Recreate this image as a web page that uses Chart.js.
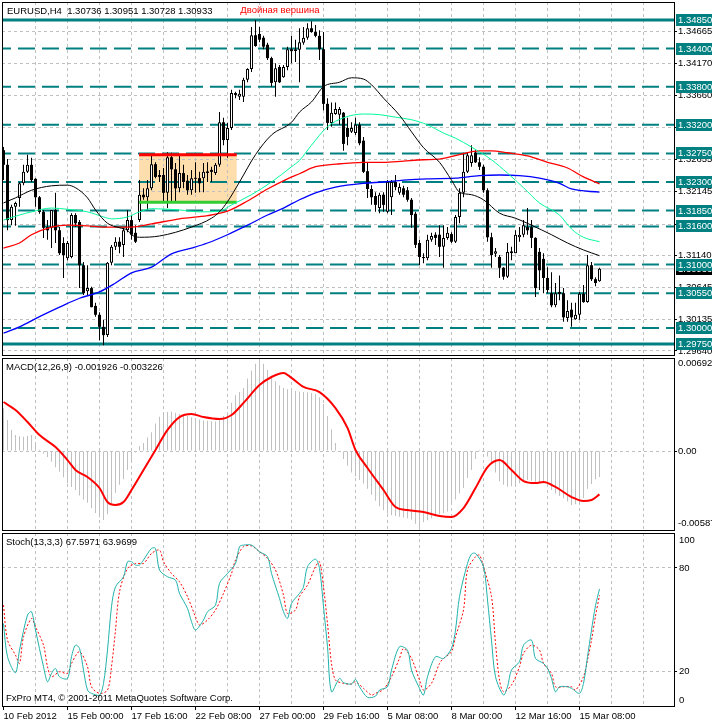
<!DOCTYPE html>
<html>
<head>
<meta charset="utf-8">
<title>EURUSD,H4</title>
<script src="https://cdn.jsdelivr.net/npm/chart.js@4/dist/chart.umd.min.js"></script>
<style>
  html, body { margin:0; padding:0; background:#ffffff; }
  #wrap { position:relative; width:712px; height:724px; overflow:hidden; background:#ffffff; }
  #wrap canvas { position:absolute; left:0; }
</style>
</head>
<body>
<div id="wrap">
  <canvas id="cMain" width="712" height="357" style="top:0px;width:712px;height:357px"></canvas>
  <canvas id="cMacd" width="712" height="176" style="top:356px;width:712px;height:176px"></canvas>
  <canvas id="cStoch" width="712" height="192" style="top:532px;width:712px;height:192px"></canvas>
</div>
<script>
// ================= DATA =================
const symbolName = 'EURUSD,H4';
const annotationText = 'Двойная вершина';
const copyrightText = 'FxPro MT4, © 2001-2011 MetaQuotes Software Corp.';
const xTickLabels = ['10 Feb 2012','15 Feb 00:00','17 Feb 16:00','22 Feb 08:00','27 Feb 00:00','29 Feb 16:00','5 Mar 08:00','8 Mar 00:00','12 Mar 16:00','15 Mar 08:00'];
const priceTicks = [1.34665,1.34170,1.33660,1.33150,1.32655,1.32145,1.31635,1.31140,1.30645,1.30135,1.29640];
const levelsSolid = [1.34850, 1.29750];
const levelsDashed = [1.34400,1.33800,1.33200,1.32750,1.32300,1.31850,1.31600,1.31000,1.30550,1.30000];

const opens = [
1.3280,1.3257,1.3170,1.3191,1.3205,1.3228,1.3246,1.3257,1.3235,1.3206,
1.3183,1.3159,1.3158,1.3186,1.3154,1.3134,1.3110,1.3112,1.3178,1.3167,
1.3099,1.3058,1.3063,1.3035,1.3021,1.3002,1.2989,1.3103,1.3128,1.3136,
1.3131,1.3154,1.3170,1.3150,1.3170,1.3210,1.3206,1.3220,1.3258,1.3241,
1.3241,1.3213,1.3269,1.3250,1.3220,1.3244,1.3232,1.3217,1.3236,1.3236,
1.3236,1.3244,1.3249,1.3244,1.3257,1.3324,1.3296,1.3315,1.3370,1.3364,
1.3364,1.3391,1.3408,1.3461,1.3463,1.3457,1.3446,1.3425,1.3387,1.3411,
1.3395,1.3411,1.3439,1.3436,1.3438,1.3449,1.3457,1.3472,1.3466,1.3460,
1.3439,1.3353,1.3323,1.3337,1.3336,1.3339,1.3315,1.3309,1.3307,1.3320,
1.3295,1.3247,1.3219,1.3208,1.3189,1.3210,1.3183,1.3206,1.3230,1.3213,
1.3220,1.3217,1.3202,1.3180,1.3134,1.3110,1.3110,1.3139,1.3147,1.3147,
1.3128,1.3142,1.3148,1.3136,1.3175,1.3213,1.3246,1.3260,1.3276,1.3261,
1.3254,1.3217,1.3143,1.3117,1.3112,1.3095,1.3081,1.3118,1.3118,1.3143,
1.3147,1.3159,1.3159,1.3142,1.3120,1.3109,1.3079,1.3055,1.3036,1.3057,
1.3055,1.3016,1.3029,1.3014,1.3021,1.3054,1.3041,1.3099,1.3077,1.30736];
const highs = [
1.3285,1.3266,1.3194,1.3199,1.3230,1.3257,1.3273,1.3268,1.3236,1.3208,
1.3186,1.3170,1.3186,1.3213,1.3159,1.3143,1.3137,1.3181,1.3181,1.3170,
1.3104,1.3099,1.3065,1.3040,1.3025,1.3013,1.3104,1.3131,1.3143,1.3143,
1.3158,1.3186,1.3178,1.3162,1.3233,1.3220,1.3233,1.3273,1.3261,1.3249,
1.3252,1.3277,1.3276,1.3260,1.3273,1.3257,1.3241,1.3249,1.3261,1.3246,
1.3260,1.3261,1.3254,1.3260,1.3340,1.3331,1.3323,1.3375,1.3372,1.3375,
1.3394,1.3409,1.3474,1.3485,1.3474,1.3460,1.3449,1.3427,1.3417,1.3414,
1.3414,1.3443,1.3460,1.3454,1.3472,1.3474,1.3480,1.3483,1.3477,1.3469,
1.3466,1.3362,1.3355,1.3355,1.3348,1.3340,1.3331,1.3324,1.3331,1.3324,
1.3301,1.3261,1.3225,1.3214,1.3213,1.3214,1.3233,1.3233,1.3241,1.3228,
1.3224,1.3222,1.3205,1.3183,1.3139,1.3118,1.3147,1.3150,1.3151,1.3162,
1.3162,1.3159,1.3151,1.3178,1.3220,1.3276,1.3277,1.3288,1.3280,1.3269,
1.3257,1.3220,1.3150,1.3126,1.3115,1.3096,1.3134,1.3128,1.3154,1.3159,
1.3170,1.3189,1.3170,1.3143,1.3126,1.3118,1.3096,1.3088,1.3071,1.3083,
1.3063,1.3044,1.3040,1.3040,1.3057,1.3068,1.3115,1.3104,1.3080,1.30951];
const lows = [
1.3233,1.3154,1.3162,1.3161,1.3191,1.3225,1.3244,1.3230,1.3191,1.3180,
1.3142,1.3139,1.3126,1.3134,1.3115,1.3079,1.3107,1.3110,1.3159,1.3063,
1.3052,1.3052,1.3033,1.3018,1.2981,1.2973,1.2986,1.3099,1.3123,1.3118,
1.3112,1.3151,1.3139,1.3134,1.3167,1.3202,1.3186,1.3217,1.3236,1.3230,
1.3199,1.3189,1.3199,1.3197,1.3214,1.3220,1.3210,1.3210,1.3213,1.3214,
1.3214,1.3230,1.3230,1.3241,1.3254,1.3288,1.3268,1.3312,1.3362,1.3359,
1.3356,1.3387,1.3403,1.3443,1.3450,1.3439,1.3422,1.3380,1.3364,1.3386,
1.3394,1.3406,1.3417,1.3419,1.3387,1.3446,1.3454,1.3465,1.3458,1.3422,
1.3343,1.3312,1.3317,1.3336,1.3320,1.3279,1.3288,1.3307,1.3304,1.3288,
1.3244,1.3205,1.3194,1.3183,1.3181,1.3183,1.3181,1.3178,1.3217,1.3210,
1.3206,1.3199,1.3158,1.3126,1.3099,1.3102,1.3107,1.3136,1.3131,1.3112,
1.3095,1.3139,1.3134,1.3134,1.3165,1.3206,1.3244,1.3254,1.3260,1.3249,
1.3213,1.3136,1.3095,1.3112,1.3079,1.3076,1.3079,1.3107,1.3118,1.3136,
1.3143,1.3147,1.3126,1.3049,1.3060,1.3055,1.3055,1.3033,1.3033,1.3044,
1.3010,1.3010,1.3002,1.3013,1.3013,1.3040,1.3040,1.3074,1.3066,1.30728];
const closes = [
1.3257,1.3170,1.3191,1.3197,1.3228,1.3246,1.3257,1.3233,1.3206,1.3183,
1.3158,1.3154,1.3186,1.3154,1.3118,1.3115,1.3134,1.3178,1.3165,1.3099,
1.3055,1.3063,1.3033,1.3021,1.3002,1.2989,1.3103,1.3128,1.3136,1.3128,
1.3154,1.3170,1.3147,1.3136,1.3210,1.3206,1.3220,1.3258,1.3238,1.3238,
1.3213,1.3269,1.3250,1.3220,1.3244,1.3230,1.3217,1.3236,1.3235,1.3228,
1.3246,1.3247,1.3246,1.3257,1.3324,1.3296,1.3315,1.3370,1.3367,1.3369,
1.3391,1.3408,1.3461,1.3444,1.3454,1.3443,1.3425,1.3386,1.3409,1.3387,
1.3411,1.3439,1.3436,1.3439,1.3450,1.3457,1.3472,1.3466,1.3460,1.3439,
1.3353,1.3323,1.3339,1.3345,1.3345,1.3290,1.3301,1.3315,1.3320,1.3291,
1.3246,1.3219,1.3206,1.3194,1.3210,1.3194,1.3230,1.3230,1.3222,1.3222,
1.3210,1.3202,1.3178,1.3131,1.3112,1.3112,1.3139,1.3145,1.3142,1.3128,
1.3142,1.3150,1.3136,1.3175,1.3213,1.3246,1.3272,1.3272,1.3261,1.3254,
1.3217,1.3143,1.3115,1.3121,1.3095,1.3081,1.3120,1.3121,1.3147,1.3147,
1.3162,1.3154,1.3142,1.3063,1.3091,1.3079,1.3060,1.3036,1.3055,1.3054,
1.3017,1.3027,1.3017,1.3021,1.3054,1.3041,1.3099,1.3077,1.3071,1.30933];

// moving averages: [bar index, price]
const maBlack = [[0,1.3197],[3,1.3205],[7,1.3217],[12,1.3224],[16,1.3225],[18,1.3221],[21,1.3205],[23,1.3186],[26,1.3165],[29,1.3158],[31,1.3154],[32,1.3147],[34,1.3143],[39,1.3145],[47,1.3159],[52,1.3173],[54,1.3183],[56,1.3199],[59,1.3230],[63,1.3273],[67,1.3304],[72,1.3324],[74,1.3340],[77,1.3356],[80,1.3380],[84,1.3387],[87,1.3394],[90,1.3392],[92,1.3383],[95,1.3362],[99,1.3335],[102,1.3309],[105,1.3284],[109,1.3261],[112,1.3233],[114,1.3214],[117,1.3210],[120,1.3202],[124,1.3181],[128,1.3173],[132,1.3162],[137,1.3147],[141,1.3134],[145,1.3123],[149,1.3114]];
const maGreen = [[0,1.3170],[4,1.3178],[7,1.3183],[12,1.3189],[16,1.3187],[21,1.3183],[25,1.3175],[27,1.3172],[31,1.3175],[34,1.3183],[37,1.3188],[44,1.3186],[49,1.3183],[54,1.3184],[57,1.3194],[62,1.3210],[67,1.3230],[72,1.3254],[74,1.3264],[77,1.3288],[81,1.3317],[85,1.3331],[90,1.3337],[94,1.3336],[98,1.3332],[102,1.3328],[106,1.3320],[110,1.3307],[113,1.3299],[117,1.3285],[122,1.3265],[126,1.3244],[130,1.3221],[134,1.3197],[139,1.3178],[142,1.3156],[145,1.3143],[149,1.3136]];
const maRed = [[0,1.3126],[4,1.3134],[7,1.3147],[12,1.3159],[16,1.3162],[21,1.3161],[25,1.3159],[32,1.3159],[37,1.3164],[44,1.3172],[51,1.3177],[56,1.3184],[61,1.3200],[66,1.3219],[71,1.3235],[74,1.3243],[78,1.3254],[83,1.3258],[90,1.3261],[95,1.3261],[100,1.3263],[105,1.3265],[109,1.3266],[114,1.3273],[119,1.3279],[122,1.3279],[126,1.3276],[131,1.3271],[136,1.3261],[141,1.3252],[145,1.3238],[149,1.3227]];
const maBlue = [[0,1.2992],[4,1.3002],[9,1.3018],[14,1.3033],[19,1.3047],[24,1.3057],[28,1.3071],[32,1.3087],[37,1.3096],[42,1.3117],[47,1.3126],[51,1.3134],[56,1.3147],[61,1.3162],[66,1.3178],[70,1.3189],[74,1.3202],[78,1.3213],[83,1.3222],[90,1.3228],[95,1.3230],[100,1.3233],[106,1.3235],[113,1.3236],[119,1.3240],[124,1.3241],[129,1.3240],[134,1.3236],[139,1.3228],[142,1.3219],[149,1.3214]];

// consolidation box: [from bar, to bar, upper price, lower price]
const boxRange = [33.9, 58.3, 1.3273, 1.3198];
const annotationAt = [59.2, 1.34995];

// MACD(12,26,9)
const macdMin = -0.005873, macdMax = 0.006923;
const macdHist = [
0.00318,0.00231,0.00157,0.00119,0.00110,0.00107,0.00112,0.00119,0.00057,0.00010,
-0.00020,-0.00045,-0.00080,-0.00120,-0.00153,-0.00195,-0.00240,-0.00268,-0.00290,-0.00330,
-0.00362,-0.00385,-0.00425,-0.00460,-0.00495,-0.00513,-0.00470,-0.00390,-0.00310,-0.00250,
-0.00210,-0.00140,-0.00080,-0.00010,0.00035,0.00060,0.00100,0.00140,0.00205,0.00255,
0.00280,0.00290,0.00293,0.00285,0.00276,0.00268,0.00260,0.00252,0.00245,0.00235,
0.00228,0.00225,0.00222,0.00219,0.00235,0.00260,0.00285,0.00360,0.00415,0.00440,
0.00470,0.00540,0.00600,0.00650,0.00692,0.00650,0.00603,0.00560,0.00520,0.00490,
0.00470,0.00460,0.00452,0.00447,0.00442,0.00440,0.00437,0.00432,0.00425,0.00400,
0.00350,0.00260,0.00160,0.00060,0.00005,-0.00060,-0.00110,-0.00160,-0.00190,-0.00215,
-0.00242,-0.00280,-0.00325,-0.00370,-0.00410,-0.00440,-0.00465,-0.00478,-0.00484,-0.00488,
-0.00494,-0.00500,-0.00510,-0.00540,-0.00587,-0.00530,-0.00515,-0.00500,-0.00485,-0.00470,
-0.00460,-0.00450,-0.00400,-0.00360,-0.00315,-0.00275,-0.00200,-0.00140,-0.00060,0.00010,
0.00020,-0.00040,-0.00090,-0.00160,-0.00225,-0.00250,-0.00265,-0.00262,-0.00255,-0.00240,
-0.00225,-0.00215,-0.00220,-0.00228,-0.00235,-0.00240,-0.00260,-0.00290,-0.00315,-0.00335,
-0.00352,-0.00375,-0.00401,-0.00395,-0.00380,-0.00350,-0.00280,-0.00245,-0.00210,-0.001926];
const macdSignal = [[0,0.00365],[3,0.00305],[6,0.00216],[9,0.00119],[13,0.00030],[16,-0.00067],[18,-0.00141],[21,-0.00193],[24,-0.00275],[26,-0.00379],[28,-0.00401],[30,-0.00379],[32,-0.00290],[35,-0.00141],[38,0.00008],[41,0.00157],[44,0.00253],[47,0.00276],[50,0.00253],[54,0.00238],[57,0.00268],[60,0.00358],[64,0.00491],[67,0.00551],[70,0.00581],[72,0.00544],[75,0.00477],[79,0.00439],[83,0.00320],[86,0.00172],[88,0.00008],[91,-0.00126],[95,-0.00290],[98,-0.00416],[101,-0.00439],[105,-0.00453],[109,-0.00483],[112,-0.00491],[115,-0.00424],[118,-0.00275],[121,-0.00119],[124,-0.00067],[127,-0.00141],[130,-0.00223],[133,-0.00238],[135,-0.00230],[138,-0.00267],[142,-0.00342],[145,-0.00372],[147,-0.00364],[149,-0.003226]];

// Stochastic(13,3,3)
const stochK = [[0,47.7],[1,28.5],[3,19.2],[4,32.3],[6,52.6],[7,54.5],[8,43.9],[10,22.7],[11,14.0],[12,18.8],[13,21.7],[14,16.9],[16,15.9],[17,28.5],[18,35.2],[19,33.3],[20,20.8],[21,9.2],[22,7.3],[24,6.3],[25,13.1],[26,32.3],[27,57.4],[28,68.9],[30,74.7],[31,83.4],[32,83.4],[33,81.5],[34,81.5],[35,84.4],[37,91.1],[38,91.1],[39,78.6],[41,74.7],[43,72.8],[44,65.1],[46,56.4],[47,48.7],[48,43.9],[50,49.7],[51,54.5],[53,58.3],[54,70.9],[56,76.6],[58,82.4],[59,92.1],[60,93.0],[62,93.0],[64,89.2],[66,86.3],[67,76.6],[69,62.2],[70,54.5],[71,50.6],[72,59.3],[74,65.1],[75,68.9],[76,80.5],[78,84.9],[79,79.5],[80,57.4],[81,34.3],[82,8.2],[84,16.0],[85,13.5],[87,12.7],[88,15.4],[89,11.1],[91,5.0],[93,5.7],[94,9.2],[96,11.1],[97,20.8],[99,34.3],[101,32.3],[102,20.8],[104,10.2],[105,6.3],[106,16.9],[108,28.5],[110,27.5],[112,33.3],[113,43.9],[114,63.2],[116,82.4],[117,87.8],[118,88.2],[120,80.5],[121,61.2],[122,38.1],[123,16.9],[125,6.3],[126,11.1],[127,20.8],[129,25.6],[130,35.2],[132,38.1],[133,27.5],[135,24.6],[136,21.7],[137,15.9],[138,8.2],[139,11.1],[141,11.1],[142,10.2],[144,7.3],[145,13.1],[146,28.5],[147,43.9],[148,58.0],[149,67.5971]];
const stochD = [[0,58.3],[1,38.1],[3,29.4],[4,24.6],[5,40.0],[7,50.6],[8,45.8],[10,35.2],[11,22.7],[12,16.9],[14,19.8],[16,18.8],[17,24.6],[19,31.4],[21,22.7],[22,11.1],[24,7.3],[26,9.2],[27,22.7],[28,43.9],[29,66.0],[31,79.5],[33,82.4],[35,82.4],[37,88.2],[39,90.1],[40,83.4],[42,76.6],[44,71.8],[46,63.2],[48,51.6],[49,46.8],[51,49.7],[53,55.5],[55,65.1],[57,76.6],[58,84.4],[60,92.1],[62,92.5],[64,89.2],[66,85.3],[68,78.6],[70,64.1],[71,53.5],[73,55.5],[74,63.2],[76,69.9],[78,80.5],[79,83.4],[80,68.9],[81,47.7],[82,24.6],[83,15.0],[85,13.1],[87,12.7],[88,14.0],[90,10.2],[92,6.3],[93,7.3],[95,9.6],[97,16.9],[99,27.5],[100,33.3],[102,27.5],[104,15.0],[105,9.2],[107,13.1],[109,24.6],[110,27.5],[112,31.4],[113,40.0],[115,55.5],[116,78.6],[118,86.3],[119,87.2],[120,80.5],[122,63.2],[123,36.2],[124,15.0],[125,8.2],[127,12.1],[129,22.7],[130,30.4],[132,35.2],[134,32.3],[135,24.6],[137,18.8],[138,11.1],[140,11.1],[142,11.1],[143,9.2],[145,16.9],[146,26.5],[147,38.0],[148,52.0],[149,63.9699]];
const stochLevels = [80, 20];

// ================= RENDERING =================
const FONT_FAMILY = "'Liberation Sans', Arial, sans-serif";
const FONT_PX = 9.5;
const FONT = FONT_PX + 'px ' + FONT_FAMILY;
Chart.defaults.font.family = FONT_FAMILY;
Chart.defaults.font.size = FONT_PX;
Chart.defaults.color = '#000';

const TEAL = '#008080', GRID = '#c0c0c0', NONE = 'rgba(0,0,0,0)';
const X_MIN = -0.375, X_MAX = 167.625;
const gridVals = []; for (let v = 8; v <= 160; v += 8) gridVals.push(v);
const last = closes.length - 1;
const lastPrice = closes[last];

function labelIndex(v) { return (v % 16 === 0 && v / 16 < xTickLabels.length) ? v / 16 : -1; }

function xAxis(withLabels) {
  return {
    type: 'linear', position: 'bottom', min: X_MIN, max: X_MAX, offset: false,
    afterBuildTicks: s => { s.ticks = (withLabels ? [0].concat(gridVals) : gridVals).map(v => ({ value: v })); },
    afterFit: s => { s.height = withLabels ? 18 : 0; s.paddingLeft = 0; s.paddingRight = 0; },
    grid: {
      offset: false, lineWidth: 1, drawTicks: withLabels, tickLength: 4,
      color: c => (c.tick && c.tick.value > 0) ? GRID : NONE,
      tickColor: c => (c.tick && labelIndex(c.tick.value) >= 0) ? '#000' : NONE
    },
    border: { display: false, dash: [3, 3] },
    ticks: {
      display: withLabels, autoSkip: false, maxRotation: 0, minRotation: 0, align: 'start', padding: 1, color: '#000',
      callback: v => { const k = labelIndex(v); return k >= 0 ? xTickLabels[k] : ''; }
    }
  };
}
function yAxis(min, max, tickVals, showLabels, fmt) {
  return {
    type: 'linear', position: 'right', min: min, max: max,
    afterBuildTicks: s => { s.ticks = tickVals.map(v => ({ value: v })); },
    afterFit: s => { s.width = 38; s.paddingTop = 0; s.paddingBottom = 0; },
    grid: { color: GRID, lineWidth: 1, drawTicks: true, tickLength: 3, tickColor: '#000' },
    border: { display: false, dash: [3, 3] },
    ticks: { display: showLabels, autoSkip: false, padding: 1, color: '#000', callback: fmt || (v => v) }
  };
}
function lineDs(points, color, width, order, extra) {
  return Object.assign({
    type: 'line', data: points.map(p => ({ x: p[0], y: p[1] })),
    borderColor: color, borderWidth: width, pointRadius: 0, fill: false,
    cubicInterpolationMode: 'monotone', order: order, clip: 0
  }, extra || {});
}
function hLineDs(v, color, width, dash, order) {
  return { type: 'line', data: [{ x: X_MIN - 2, y: v }, { x: X_MAX + 2, y: v }],
    borderColor: color, borderWidth: width, borderDash: dash, pointRadius: 0, fill: false, order: order, clip: 0 };
}
const baseOptions = {
  responsive: false, maintainAspectRatio: false, animation: false, devicePixelRatio: 1, events: [],
  plugins: { legend: { display: false }, tooltip: { enabled: false } }
};
function frame(ctx, a) {
  ctx.strokeStyle = '#000'; ctx.lineWidth = 1;
  ctx.strokeRect(a.left + 0.5, a.top + 0.5, a.right - a.left, a.bottom - a.top);
}
const isBull = c => c.dataIndex !== undefined && closes[c.dataIndex] >= opens[c.dataIndex];

// ---------- main price pane ----------
const mainDecor = {
  id: 'mainDecor',
  beforeDraw(chart) {
    const { ctx, scales: { x, y } } = chart;
    const x0 = x.getPixelForValue(boxRange[0]), x1 = x.getPixelForValue(boxRange[1]);
    const y0 = y.getPixelForValue(boxRange[2]), y1 = y.getPixelForValue(boxRange[3]);
    ctx.save(); ctx.fillStyle = '#FFDEAD'; ctx.fillRect(x0, y0, x1 - x0, y1 - y0); ctx.restore();
  },
  afterDraw(chart) {
    const { ctx, chartArea: a, scales: { x, y } } = chart;
    ctx.save();
    frame(ctx, a);
    ctx.font = FONT; ctx.textBaseline = 'middle'; ctx.textAlign = 'left';
    const box = (v, bg) => {
      const py = Math.round(y.getPixelForValue(v));
      ctx.fillStyle = bg; ctx.fillRect(a.right + 2, py - 6, 40, 12);
      ctx.fillStyle = '#fff'; ctx.fillText(v.toFixed(5), a.right + 4, py);
    };
    box(lastPrice, '#000');
    levelsSolid.concat(levelsDashed).forEach(v => box(v, TEAL));
    ctx.fillStyle = '#000';
    ctx.fillText(symbolName + '  ' + [opens[last], highs[last], lows[last], closes[last]].map(v => v.toFixed(5)).join(' '), 7, 11);
    ctx.fillStyle = '#ff0000';
    ctx.fillText(annotationText, x.getPixelForValue(annotationAt[0]), y.getPixelForValue(annotationAt[1]));
    ctx.restore();
  }
};

const mainDatasets = [];
levelsSolid.forEach(v => mainDatasets.push(hLineDs(v, TEAL, 3, [], 20)));
levelsDashed.forEach(v => mainDatasets.push(hLineDs(v, TEAL, 2, [17, 7], 20)));
mainDatasets.push(hLineDs(lastPrice, GRID, 1, [], 19));
mainDatasets.push({
  type: 'bar', data: highs.map((h, i) => ({ x: i, y: [lows[i], h] })),
  backgroundColor: '#000', borderWidth: 0, grouped: false, barThickness: 1, maxBarThickness: 1,
  minBarLength: 1, inflateAmount: 0, order: 8
});
mainDatasets.push({
  type: 'bar', data: opens.map((o, i) => ({ x: i, y: [o, closes[i]] })),
  backgroundColor: c => isBull(c) ? '#ffffff' : '#000000', borderColor: '#000',
  borderWidth: c => isBull(c) ? 1 : 0, borderSkipped: false,
  grouped: false, barThickness: 3, maxBarThickness: 3, minBarLength: 1, inflateAmount: 0, order: 7
});
mainDatasets.push(lineDs([[boxRange[0], boxRange[2]], [boxRange[1], boxRange[2]]], '#ff0000', 3, 6, { cubicInterpolationMode: 'default' }));
mainDatasets.push(lineDs([[boxRange[0], boxRange[3]], [boxRange[1], boxRange[3]]], '#32CD32', 3, 6, { cubicInterpolationMode: 'default' }));
mainDatasets.push(lineDs(maBlue, '#0000ff', 1.3, 4));
mainDatasets.push(lineDs(maRed, '#ff0000', 1.3, 3));
mainDatasets.push(lineDs(maGreen, '#00FA9A', 1, 2));
mainDatasets.push(lineDs(maBlack, '#000000', 1, 1));

new Chart(document.getElementById('cMain'), {
  type: 'bar',
  data: { datasets: mainDatasets },
  options: Object.assign({}, baseOptions, {
    layout: { padding: { left: 2, top: 2, right: 0, bottom: 2 } },
    scales: {
      x: xAxis(false),
      y: yAxis(1.29577, 1.35133, priceTicks, true, v => Number(v).toFixed(5))
    }
  }),
  plugins: [mainDecor]
});

// ---------- MACD pane ----------
const macdDecor = {
  id: 'macdDecor',
  afterDraw(chart) {
    const { ctx, chartArea: a, scales: { y } } = chart;
    ctx.save();
    frame(ctx, a);
    ctx.font = FONT; ctx.textBaseline = 'middle'; ctx.textAlign = 'left'; ctx.fillStyle = '#000';
    ctx.fillText(macdMax.toFixed(6), a.right + 4, a.top + 5);
    ctx.fillText('0.00', a.right + 4, Math.round(y.getPixelForValue(0)));
    ctx.fillText(macdMin.toFixed(6), a.right + 4, a.bottom - 7);
    const sig = macdSignal[macdSignal.length - 1][1];
    ctx.fillText('MACD(12,26,9) ' + macdHist[last].toFixed(6) + ' ' + sig.toFixed(6), 6, 11);
    ctx.restore();
  }
};
new Chart(document.getElementById('cMacd'), {
  type: 'bar',
  data: { datasets: [
    { type: 'bar', data: macdHist.map((v, i) => ({ x: i, y: v })), backgroundColor: '#c0c0c0', borderWidth: 0,
      grouped: false, barThickness: 1, maxBarThickness: 1, inflateAmount: 0, order: 2 },
    lineDs(macdSignal, '#ff0000', 2, 1)
  ] },
  options: Object.assign({}, baseOptions, {
    layout: { padding: { left: 2, top: 2, right: 0, bottom: 2 } },
    scales: { x: xAxis(false), y: yAxis(macdMin, macdMax, [0], false) }
  }),
  plugins: [macdDecor]
});

// ---------- Stochastic pane ----------
const stochDecor = {
  id: 'stochDecor',
  afterDraw(chart) {
    const { ctx, chartArea: a, scales: { y } } = chart;
    ctx.save();
    frame(ctx, a);
    ctx.font = FONT; ctx.textBaseline = 'middle'; ctx.textAlign = 'left'; ctx.fillStyle = '#000';
    ctx.fillText('100', a.right + 5, a.top + 7);
    stochLevels.forEach(v => ctx.fillText(String(v), a.right + 5, Math.round(y.getPixelForValue(v))));
    ctx.fillText('0', a.right + 5, a.bottom - 6);
    ctx.fillText('Stoch(13,3,3) ' + stochK[stochK.length - 1][1].toFixed(4) + ' ' + stochD[stochD.length - 1][1].toFixed(4), 6, 10);
    ctx.fillText(copyrightText, 6, 166);
    ctx.restore();
  }
};
new Chart(document.getElementById('cStoch'), {
  type: 'line',
  data: { datasets: [
    lineDs(stochD, '#ff0000', 1, 2, { borderDash: [2, 2], cubicInterpolationMode: 'default', tension: 0.3 }),
    lineDs(stochK, '#20B2AA', 1, 1, { cubicInterpolationMode: 'default', tension: 0.3 })
  ] },
  options: Object.assign({}, baseOptions, {
    layout: { padding: { left: 2, top: 1, right: 0, bottom: 0 } },
    scales: { x: xAxis(true), y: yAxis(0, 100, stochLevels, false) }
  }),
  plugins: [stochDecor]
});
</script>
</body>
</html>
